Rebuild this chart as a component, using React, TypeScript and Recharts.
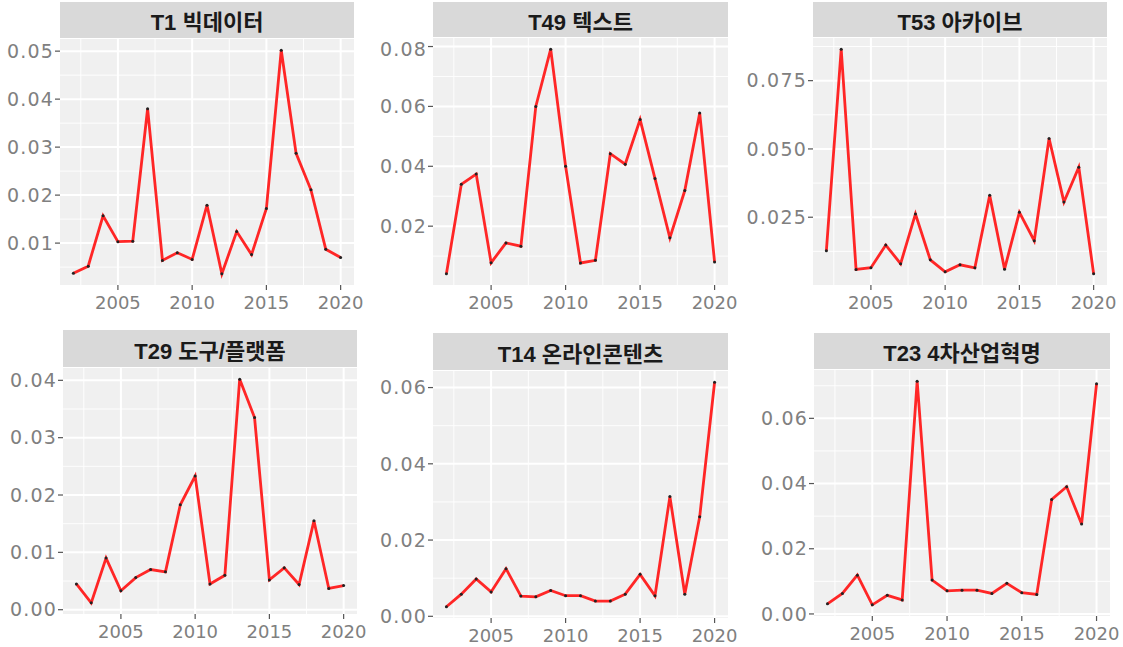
import { LineChart, Line, XAxis, YAxis, CartesianGrid } from 'recharts'

const years = [2002, 2003, 2004, 2005, 2006, 2007, 2008, 2009, 2010, 2011, 2012, 2013, 2014, 2015, 2016, 2017, 2018, 2019, 2020]

const t1 = [0.0037, 0.0052, 0.0157, 0.0103, 0.0104, 0.038, 0.0064, 0.008, 0.0066, 0.0179, 0.0036, 0.0124, 0.0076, 0.0172, 0.0502, 0.0287, 0.0211, 0.0087, 0.007]
const t49 = [0.0041, 0.034, 0.0374, 0.0078, 0.0144, 0.0133, 0.06, 0.0791, 0.04, 0.0077, 0.0086, 0.0442, 0.0407, 0.0556, 0.0359, 0.0161, 0.0319, 0.0578, 0.008]
const t53 = [0.0127, 0.0865, 0.0059, 0.0065, 0.0148, 0.008, 0.0262, 0.0094, 0.005, 0.0076, 0.0065, 0.033, 0.006, 0.0268, 0.0164, 0.0538, 0.0306, 0.0433, 0.0043]
const t29 = [0.0045, 0.0012, 0.009, 0.0033, 0.0056, 0.007, 0.0066, 0.0183, 0.0233, 0.0045, 0.006, 0.0402, 0.0335, 0.0052, 0.0073, 0.0044, 0.0155, 0.0037, 0.0042]
const t14 = [0.0025, 0.0058, 0.0098, 0.0064, 0.0125, 0.0053, 0.0051, 0.0068, 0.0054, 0.0054, 0.004, 0.004, 0.0058, 0.011, 0.0054, 0.0314, 0.0058, 0.0261, 0.0614]
const t23 = [0.0031, 0.0063, 0.0119, 0.0028, 0.0057, 0.0043, 0.0714, 0.0104, 0.0071, 0.0073, 0.0073, 0.0063, 0.0094, 0.0065, 0.006, 0.0351, 0.039, 0.0276, 0.0706]

const xTicks = [2005, 2010, 2015, 2020]
const ticksT1 = [0.01, 0.02, 0.03, 0.04, 0.05]
const ticksT49 = [0.02, 0.04, 0.06, 0.08]
const ticksT53 = [0.025, 0.05, 0.075]
const ticksT29 = [0, 0.01, 0.02, 0.03, 0.04]
const ticksT14 = [0, 0.02, 0.04, 0.06]
const ticksT23 = [0, 0.02, 0.04, 0.06]

const TICK_FONT = "'DejaVu Sans', sans-serif"
const TITLE_FONT = "'Liberation Sans', 'Noto Sans CJK KR', sans-serif"

// midpoints between breaks, plus one step past each end, kept if inside the domain
function minorBreaks(ticks: number[], lo: number, hi: number) {
  const step = ticks[1] - ticks[0]
  const out: number[] = []
  for (let v = ticks[0] - step / 2; v <= hi; v += step) {
    if (v >= lo) out.push(v)
  }
  return out
}

type Box = { cell: number; left: number; right: number; top: number; bottom: number; stripTop: number }

function Facet({ title, values, yTicks, digits, box }: {
  title: string
  values: number[]
  yTicks: number[]
  digits: number
  box: Box
}) {
  const data = years.map((year, i) => ({ year, value: values[i] }))
  const lo = Math.min(...values)
  const hi = Math.max(...values)
  const pad = (hi - lo) * 0.05
  const yDomain: [number, number] = [lo - pad, hi + pad]
  const xDomain: [number, number] = [years[0] - 0.9, years[years.length - 1] + 0.9]
  const yMinor = minorBreaks(yTicks, yDomain[0], yDomain[1])
  const xMinor = minorBreaks(xTicks, xDomain[0], xDomain[1])

  const rightPad = 30
  const axisH = 32
  const width = box.right - box.cell + rightPad
  const height = box.bottom - box.top + axisH

  return (
    <>
      <div
        style={{
          position: 'absolute',
          left: box.left,
          top: box.stripTop,
          width: box.right - box.left,
          height: box.top - box.stripTop - 1,
          background: '#D9D9D9',
          display: 'flex',
          alignItems: 'center',
          justifyContent: 'center',
          fontFamily: TITLE_FONT,
          fontWeight: 700,
          fontSize: 22,
          color: '#1a1a1a',
        }}
      >
        {title}
      </div>
      <div style={{ position: 'absolute', left: box.cell, top: box.top }}>
        <LineChart width={width} height={height} data={data} margin={{ top: 0, right: rightPad, bottom: 0, left: 0 }}>
          <CartesianGrid fill="#F0F0F0" stroke="#FFFFFF" strokeWidth={0.9} horizontalValues={yMinor} verticalValues={xMinor} />
          <CartesianGrid stroke="#FFFFFF" strokeWidth={2} horizontalValues={yTicks} verticalValues={xTicks} />
          <XAxis
            type="number"
            dataKey="year"
            domain={xDomain}
            ticks={xTicks}
            allowDataOverflow
            height={axisH}
            axisLine={false}
            tickSize={5}
            tickMargin={6}
            tickLine={{ stroke: '#555', strokeWidth: 1.2 }}
            tick={{ fill: '#808080', fontSize: 18, fontFamily: TICK_FONT }}
          />
          <YAxis
            type="number"
            domain={yDomain}
            ticks={yTicks}
            allowDataOverflow
            width={box.left - box.cell}
            axisLine={false}
            tickSize={5}
            tickMargin={1}
            tickLine={{ stroke: '#555', strokeWidth: 1.2 }}
            tick={{ fill: '#808080', fontSize: 19, fontFamily: TICK_FONT, letterSpacing: 1.2 }}
            tickFormatter={(v: number) => v.toFixed(digits)}
          />
          <Line
            type="linear"
            dataKey="value"
            stroke="#FF2626"
            strokeWidth={2.8}
            dot={{ r: 1.5, fill: '#222', stroke: 'none' }}
            activeDot={false}
            isAnimationActive={false}
          />
        </LineChart>
      </div>
    </>
  )
}

export default function App() {
  return (
    <div style={{ position: 'absolute', left: 0, top: 0, width: 1123, height: 647, background: '#fff', overflow: 'hidden' }}>
      <Facet title="T1 빅데이터" values={t1} yTicks={ticksT1} digits={2}
        box={{ cell: 0, left: 60, right: 354, top: 39, bottom: 285, stripTop: 2 }} />
      <Facet title="T49 텍스트" values={t49} yTicks={ticksT49} digits={2}
        box={{ cell: 370, left: 433, right: 728, top: 38, bottom: 285, stripTop: 2 }} />
      <Facet title="T53 아카이브" values={t53} yTicks={ticksT53} digits={3}
        box={{ cell: 742, left: 813, right: 1107, top: 38, bottom: 285, stripTop: 2 }} />
      <Facet title="T29 도구/플랫폼" values={t29} yTicks={ticksT29} digits={2}
        box={{ cell: 0, left: 63, right: 357, top: 368, bottom: 614, stripTop: 330 }} />
      <Facet title="T14 온라인콘텐츠" values={t14} yTicks={ticksT14} digits={2}
        box={{ cell: 370, left: 433, right: 728, top: 371, bottom: 618, stripTop: 333 }} />
      <Facet title="T23 4차산업혁명" values={t23} yTicks={ticksT23} digits={2}
        box={{ cell: 742, left: 814, right: 1110, top: 370, bottom: 616, stripTop: 333 }} />
    </div>
  )
}
